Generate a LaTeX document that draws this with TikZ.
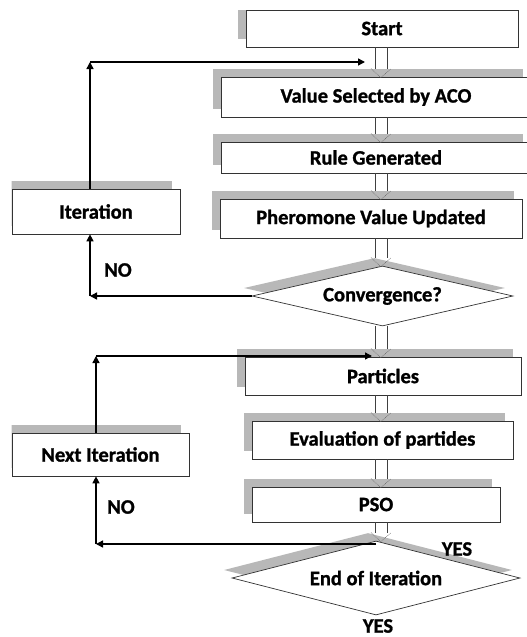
\documentclass[tikz,border=0pt]{standalone}
\usepackage{fontspec}
\setmainfont{Carlito}[BoldFeatures={FakeBold=1.2}]
\usetikzlibrary{shapes.geometric,shadows,calc,arrows.meta}

\begin{document}
\begin{tikzpicture}
[x=1pt,y=-1pt,
box/.style={rectangle,draw=black!80,line width=.7pt,fill=white,inner sep=0pt,
  font=\fontsize{20.5}{24}\selectfont\bfseries,
  general shadow={fill=black!28,shadow xshift=-8pt,shadow yshift=8pt}},
decision/.style={box,diamond},
loopline/.style={line width=1.4pt,-{Triangle[length=7pt,width=7pt]}},
hollow/.style={draw=black!75,line width=.6pt},
tip/.style={draw=black!60,densely dotted,line width=.6pt},
lab/.style={font=\fontsize{20.5}{24}\selectfont\bfseries,inner sep=0pt}]
\useasboundingbox (0,0) rectangle (527,637);
\clip (11.5,0) rectangle (527,637);
\begin{scope}
\clip (0,10.6) rectangle (527,637);
\node [box,minimum width=272pt,minimum height=37pt] (start) at (382,28.5) {Start};
\end{scope}
\node [box,minimum width=310pt,minimum height=40pt] (value) at (376,97) {Value Selected by ACO};
\node [box,minimum width=310pt,minimum height=31pt] (rule) at (376,157.5) {Rule Generated};
\node [box,minimum width=302pt,minimum height=39pt] (pher) at (371,218.5) {Pheromone Value Updated};
\node [decision,aspect=4.35,minimum width=261pt,minimum height=60pt] (conv) at (382.5,296) {Convergence?};
\node [box,minimum width=168pt,minimum height=45pt] (iter) at (96,211.5) {Iteration};
\node [box,minimum width=276pt,minimum height=38pt] (part) at (383,376) {Particles};
\node [box,minimum width=261pt,minimum height=38pt] (eval) at (382.5,440) {Evaluation of partides};
\node [box,minimum width=248pt,minimum height=35pt] (pso) at (376,504.5) {PSO};
\node [decision,aspect=3.9,minimum width=288pt,minimum height=74pt] (endit) at (376,578) {End of Iteration};
\node [box,minimum width=177pt,minimum height=43pt] (next) at (100.5,454.5) {Next Iteration};
% hollow arrows down the main column
\coordinate (axis) at (381,0);
\foreach \a/\b in {start/value,value/rule,rule/pher,pher/conv,conv/part,part/eval,eval/pso,pso/endit}{
\draw [hollow] ($(\a.south -| axis)+(-6,0)$) -- ($(\b.north -| axis)+(-6,-8)$)
($(\a.south -| axis)+(6,0)$) -- ($(\b.north -| axis)+(6,-8)$);
\draw [tip] ($(\b.north -| axis)+(-10,-8)$) -- ($(\b.north -| axis)+(0,1)$) -- ($(\b.north -| axis)+(10,-8)$);
}
% ACO loop
\coordinate (c1) at (90,62);
\coordinate (c2) at (90,296);
\coordinate (h1) at (365,62);
\draw [loopline] (conv.west) -- (c2);
\draw [loopline] (c2) -- (c2 |- iter.south);
\draw [loopline] (c1 |- iter.north) -- (c1);
\draw [loopline] (c1) -- (h1);
% PSO loop
\coordinate (c3) at (96,356);
\coordinate (c4) at (96,544);
\coordinate (h2) at (372,356);
\draw [loopline] (c4 -| endit.north) -- (c4);
\draw [loopline] (c4) -- (c4 |- next.south);
\draw [loopline] (c3 |- next.north) -- (c3);
\draw [loopline] (c3) -- (h2);
\node [lab] (no1) at (118,270) {NO};
\node [lab] (no2) at (121,507) {NO};
\node [lab] (yes1) at (457,549) {YES};
\node [lab] (yes2) at (378,626) {YES};
\end{tikzpicture}
\end{document}
